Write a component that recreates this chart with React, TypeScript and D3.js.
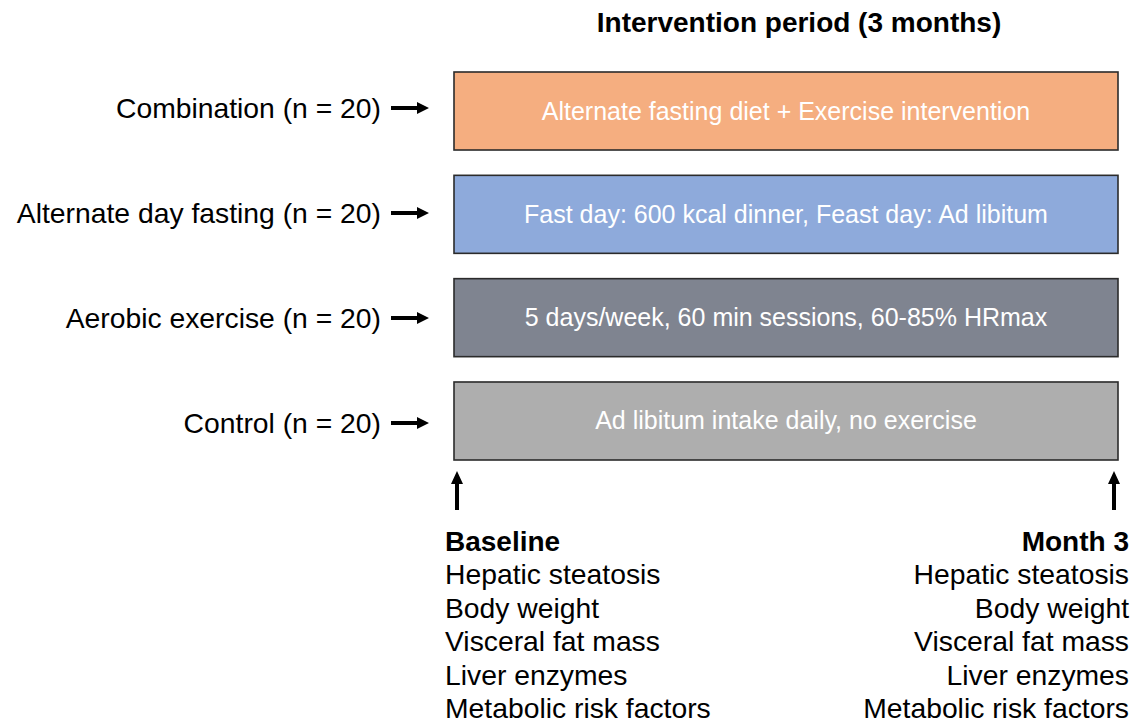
import React from "react";
import * as d3 from "d3";

const groups = ["Combination", "Alternate day fasting", "Aerobic exercise", "Control"];
const groupN = [20, 20, 20, 20];
const descriptions = [
  "Alternate fasting diet + Exercise intervention",
  "Fast day: 600 kcal dinner, Feast day: Ad libitum",
  "5 days/week, 60 min sessions, 60-85% HRmax",
  "Ad libitum intake daily, no exercise",
];
const palette = ["#F5AE80", "#8EAADB", "#7F8490", "#AEAEAE"];
const timepoints = [
  { label: "Baseline", month: 0 },
  { label: "Month 3", month: 3 },
];
const outcomes = [
  "Hepatic steatosis",
  "Body weight",
  "Visceral fat mass",
  "Liver enzymes",
  "Metabolic risk factors",
];
const title = "Intervention period (3 months)";

const W = 1134;
const H = 727;
const FONT = "'Liberation Sans', Arial, Helvetica, sans-serif";

export default function App() {
  const x = d3.scaleLinear().domain([0, 3]).range([454, 1118]);
  const y = d3.scaleBand<string>().domain(groups).range([72, 460]).paddingInner(0.245).paddingOuter(0);
  const labelY = d3.scalePoint<string>().domain(groups).range([108, 423]);
  const lineY = d3.scaleLinear().domain([0, 1]).range([551, 584.4]);

  const arrowR = (x0: number, x1: number, yy: number) =>
    `M${x0},${yy - 2} L${x1 - 12},${yy - 2} L${x1 - 12},${yy - 6} L${x1},${yy} L${x1 - 12},${yy + 6} L${x1 - 12},${yy + 2} L${x0},${yy + 2} Z`;
  const arrowU = (xx: number, y0: number, y1: number) =>
    `M${xx - 2},${y0} L${xx - 2},${y1 + 13} L${xx - 6},${y1 + 13} L${xx},${y1} L${xx + 6},${y1 + 13} L${xx + 2},${y1 + 13} L${xx + 2},${y0} Z`;

  return (
    <svg
      width={W}
      height={H}
      style={{ position: "absolute", left: 0, top: 0, background: "#fff" }}
      fontFamily={FONT}
    >
      <text x={799} y={32} textAnchor="middle" fontSize={28} fontWeight="bold" fill="#000">
        {title}
      </text>
      {groups.map((g, i) => {
        const top = y(g)!;
        const bw = y.bandwidth();
        const cy = top + bw / 2;
        const ly = labelY(g)!;
        return (
          <g key={g}>
            <text x={381} y={ly + 10} textAnchor="end" fontSize={28.3} fill="#000">
              {`${g} (n = ${groupN[i]})`}
            </text>
            <path d={arrowR(391, 429, ly)} fill="#000" />
            <rect
              x={x(0)}
              y={top}
              width={x(3) - x(0)}
              height={bw}
              fill={palette[i]}
              stroke="#2b2b2b"
              strokeWidth={1.6}
            />
            <text
              x={(x(0) + x(3)) / 2}
              y={cy + 8.5}
              textAnchor="middle"
              fontSize={25}
              fill="#fff"
            >
              {descriptions[i]}
            </text>
          </g>
        );
      })}
      {timepoints.map((tp, i) => {
        const left = i === 0;
        const ax = left ? x(tp.month) + 3 : x(tp.month) - 4;
        const tx = left ? 445 : 1129;
        const anchor = left ? "start" : "end";
        return (
          <g key={tp.label}>
            <path d={arrowU(ax, 510, 471)} fill="#000" />
            <text x={tx} y={lineY(0)} textAnchor={anchor} fontSize={28} fontWeight="bold" fill="#000">
              {tp.label}
            </text>
            {outcomes.map((o, j) => (
              <text key={o} x={tx} y={lineY(j + 1)} textAnchor={anchor} fontSize={28.3} fill="#000">
                {o}
              </text>
            ))}
          </g>
        );
      })}
    </svg>
  );
}
